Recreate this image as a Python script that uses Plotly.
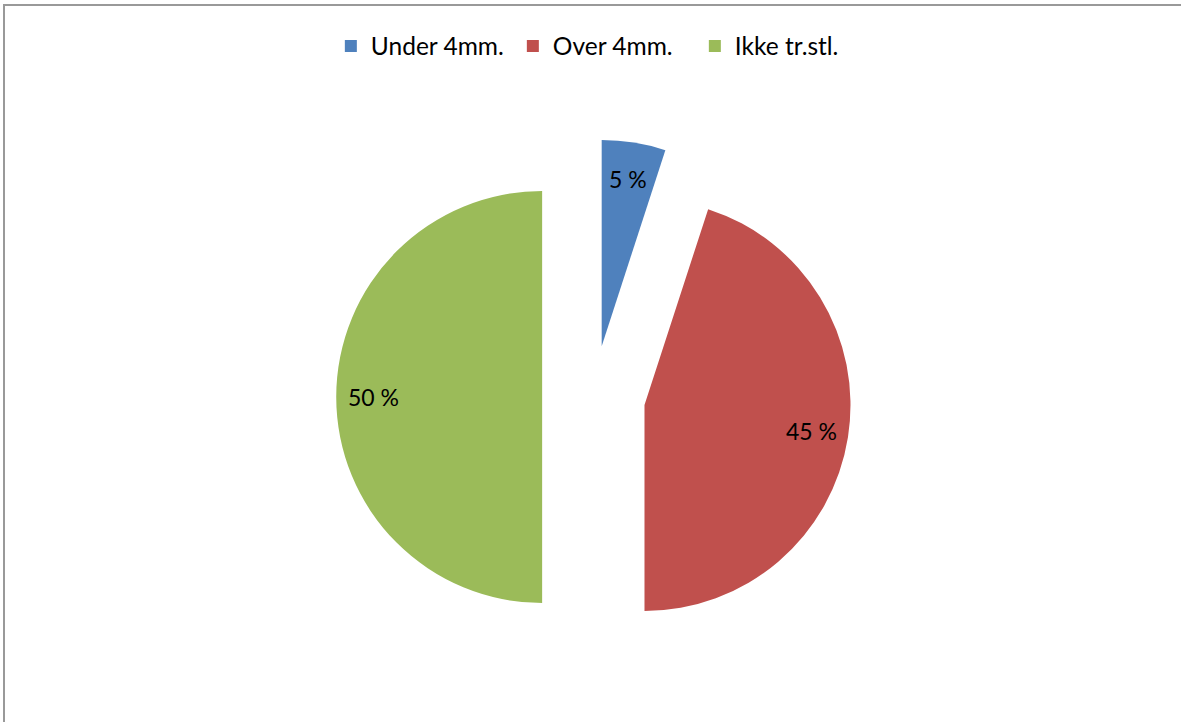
import math
import plotly.graph_objects as go

# ---- data ----
labels = ["Under 4mm.", "Over 4mm.", "Ikke tr.stl."]
values = [5, 45, 50]
text_labels = ["5 %", "45 %", "50 %"]
colors = ["#4F81BD", "#C0504D", "#9BBB59"]

# ---- layout constants ----
W, H = 1181, 722
PULL = 0.25
LABEL_FRAC = 0.82
dom_x = [0.2846, 0.7207]
dom_y = [0.0935, 0.8068]
FONT = "Lato"

fig = go.Figure(
    go.Pie(
        labels=labels,
        values=values,
        sort=False,
        direction="clockwise",
        rotation=0,
        pull=[PULL] * len(values),
        marker=dict(colors=colors, line=dict(width=0)),
        textinfo="none",
        domain=dict(x=dom_x, y=dom_y),
        hoverinfo="label+percent",
    )
)

# label positions derived from pie geometry and values
box_w = W * (dom_x[1] - dom_x[0])
box_h = H * (dom_y[1] - dom_y[0])
r = min(box_w, box_h) / 2 / (1 + PULL)
cx = W * (dom_x[0] + dom_x[1]) / 2
cy = H * (1 - dom_y[0]) - box_h / 2
total = sum(values)
cum = 0
annotations = []
for v, t in zip(values, text_labels):
    mid = (cum + v / 2) / total * 2 * math.pi
    cum += v
    d = PULL * r + LABEL_FRAC * r
    px = cx + d * math.sin(mid)
    py = cy - d * math.cos(mid)
    annotations.append(
        dict(
            x=px / W, y=1 - py / H, xref="paper", yref="paper",
            text=t, showarrow=False,
            font=dict(family=FONT, size=23, color="#000000"),
            xanchor="center", yanchor="middle",
        )
    )

fig.update_layout(
    width=W,
    height=H,
    margin=dict(l=0, r=0, t=0, b=0),
    paper_bgcolor="white",
    plot_bgcolor="white",
    font=dict(family=FONT, size=24, color="#000000"),
    legend=dict(
        orientation="h",
        x=0.5113, xanchor="center",
        y=1 - 46 / H, yanchor="middle",
        font=dict(family=FONT, size=24.5, color="#000000"),
        traceorder="normal",
        entrywidth=137,
        entrywidthmode="pixels",
    ),
    annotations=annotations,
    shapes=[
        dict(
            type="rect", xref="paper", yref="paper",
            x0=4 / W, x1=1.05, y0=-0.05, y1=1 - 5 / H,
            line=dict(color="#999999", width=2),
            fillcolor="rgba(0,0,0,0)",
        )
    ],
)

fig.write_html(
    "out.html",
    config={"displayModeBar": False},
    post_script="document.body.style.margin='0';document.body.style.overflow='hidden';",
)
